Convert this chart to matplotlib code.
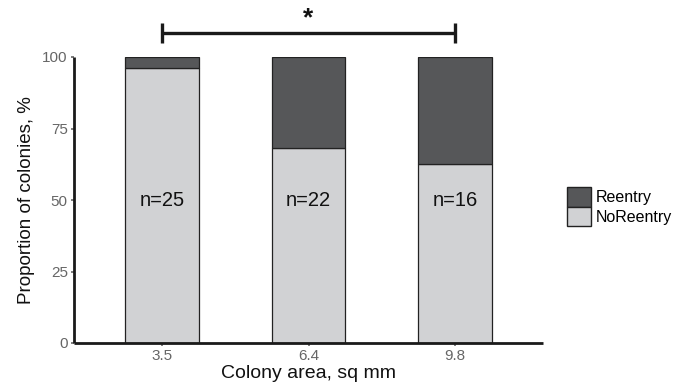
import matplotlib
matplotlib.use("Agg")
import matplotlib.pyplot as plt
from matplotlib.patches import Patch

categories = ["3.5", "6.4", "9.8"]
no_reentry = [96.0, 68.18, 62.5]
reentry = [4.0, 31.82, 37.5]
n_labels = ["n=25", "n=22", "n=16"]
yticks = [0, 25, 50, 75, 100]

dark = "#565759"
light = "#d1d2d4"

plt.rcParams["font.family"] = ["Liberation Sans", "DejaVu Sans"]

fig = plt.figure(figsize=(6.83, 3.89), dpi=100)
ax = fig.add_axes([74/683, 46/389, (543-74)/683, (343-57)/389])

x = [1, 2, 3]
ax.bar(x, no_reentry, width=0.5, color=light, edgecolor="#222222", linewidth=0.9, zorder=2)
ax.bar(x, reentry, width=0.5, bottom=no_reentry, color=dark, edgecolor="#222222", linewidth=0.9, zorder=2)

for xi, lab in zip(x, n_labels):
    ax.text(xi, 50, lab, ha="center", va="center", fontsize=14.5, color="#111111", zorder=3)

ax.set_xlim(0.4, 3.6)
ax.set_ylim(0, 100)
ax.set_xticks(x)
ax.set_xticklabels(categories)
ax.set_yticks(yticks)
ax.set_yticklabels([str(v) for v in yticks])
ax.tick_params(axis="both", colors="#666666", labelsize=11, length=2.5, width=1.2, pad=2)
for s in ["top", "right"]:
    ax.spines[s].set_visible(False)
for s in ["left", "bottom"]:
    ax.spines[s].set_linewidth(2.0)
    ax.spines[s].set_color("#1a1a1a")
    ax.spines[s].set_capstyle("butt")

ax.set_xlabel("Colony area, sq mm", fontsize=14, color="#111111", labelpad=1)
ax.set_ylabel("Proportion of colonies, %", fontsize=13.5, color="#111111", labelpad=5)

# significance bracket
yb = 108.4
ax.plot([1, 3], [yb, yb], color="#1a1a1a", lw=2.4, clip_on=False, solid_capstyle="butt")
for xe in [1, 3]:
    ax.plot([xe, xe], [yb - 3.4, yb + 3.4], color="#1a1a1a", lw=2.4, clip_on=False, solid_capstyle="butt")
ax.text(2, yb + 1.0, "*", ha="center", va="bottom", fontsize=19, fontweight="bold", color="#111111")

handles = [Patch(facecolor=dark, edgecolor="#222222", label="Reentry"),
           Patch(facecolor=light, edgecolor="#222222", label="NoReentry")]
fig.legend(handles=handles, loc="upper left", bbox_to_anchor=(561/683, 1 - 181/389),
           frameon=False, fontsize=11.5, handlelength=1.5, handleheight=1.5,
           handletextpad=0.3, labelspacing=0.0, borderaxespad=0)

fig.savefig("out.png", dpi=100)
